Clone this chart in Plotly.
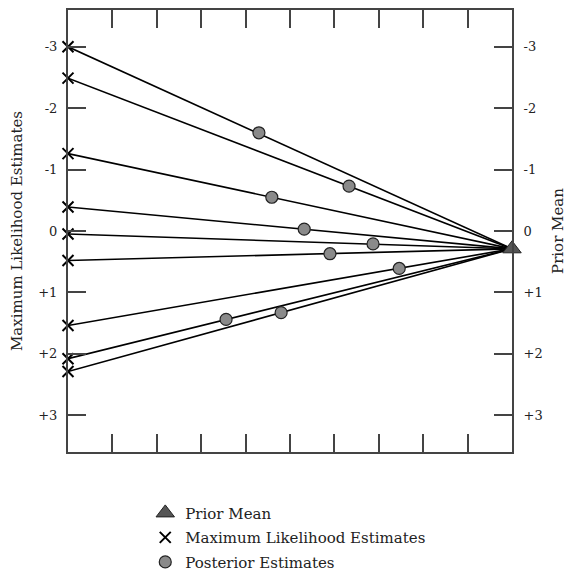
import plotly.graph_objects as go

# ---- data ----
ml_estimates = [-3.0, -2.49, -1.26, -0.39, 0.05, 0.48, 1.54, 2.08, 2.29]
prior_mean = 0.29
# posterior estimates: horizontal position (0..10 scale) and value
post_x = [4.30, 6.33, 4.59, 5.32, 6.87, 5.90, 7.46, 3.56, 4.80]
post_y = [-1.60, -0.73, -0.55, -0.03, 0.21, 0.37, 0.61, 1.44, 1.33]
ytick_vals = [-3, -2, -1, 0, 1, 2, 3]
ytick_text = ["-3", "-2", "-1", "0", "+1", "+2", "+3"]
x_left, x_right = 0, 10
xtick_vals = [1, 2, 3, 4, 5, 6, 7, 8, 9]

FONT = "DejaVu Serif"

line_x, line_y = [], []
for m in ml_estimates:
    line_x += [x_left, x_right, None]
    line_y += [m, prior_mean, None]

fig = go.Figure()
fig.add_trace(go.Scatter(x=line_x, y=line_y, mode="lines",
                         line=dict(color="black", width=1.6),
                         showlegend=False, hoverinfo="skip"))
fig.add_trace(go.Scatter(x=[x_right], y=[prior_mean], mode="markers",
                         name="Prior Mean", cliponaxis=False, legendgroup="a",
                         marker=dict(symbol="triangle-up", size=16, color="#555555",
                                     line=dict(color="#222222", width=1))))
fig.add_trace(go.Scatter(x=[x_left] * len(ml_estimates), y=ml_estimates, mode="markers",
                         name="Maximum Likelihood Estimates", cliponaxis=False,
                         legendgroup="b",
                         marker=dict(symbol="x-thin", size=11,
                                     line=dict(color="black", width=2))))
fig.add_trace(go.Scatter(x=post_x, y=post_y, mode="markers",
                         name="Posterior Estimates", legendgroup="c",
                         marker=dict(symbol="circle", size=12, color="#8a8a8a",
                                     line=dict(color="#222222", width=1.2))))
# invisible trace for right axis
fig.add_trace(go.Scatter(x=[x_left], y=[0], yaxis="y2", mode="markers",
                         marker=dict(opacity=0), showlegend=False, hoverinfo="skip"))

axis_col = "#444444"
fig.update_layout(
    width=567, height=575,
    margin=dict(l=68, r=55, t=10, b=123, autoexpand=False),
    paper_bgcolor="white", plot_bgcolor="white",
    font=dict(family=FONT, color="#222222", size=14),
    xaxis=dict(range=[x_left, x_right], showgrid=False, zeroline=False,
               showline=True, linecolor=axis_col, linewidth=2, mirror="ticks",
               ticks="inside", ticklen=18, tickwidth=2, tickcolor=axis_col,
               tickvals=xtick_vals, showticklabels=False, automargin=False),
    yaxis=dict(range=[3.6, -3.6], showgrid=False, zeroline=False,
               showline=True, linecolor=axis_col, linewidth=2,
               ticks="inside", ticklen=18, tickwidth=2, tickcolor=axis_col,
               tickvals=ytick_vals, ticktext=ytick_text, automargin=False,
               tickfont=dict(size=13), ticklabelstandoff=6,
               title=dict(text="Maximum Likelihood Estimates", standoff=12,
                          font=dict(size=15))),
    yaxis2=dict(range=[3.6, -3.6], overlaying="y", side="right", anchor="x",
                showgrid=False, zeroline=False, automargin=False,
                showline=True, linecolor=axis_col, linewidth=2,
                ticks="inside", ticklen=18, tickwidth=2, tickcolor=axis_col,
                tickvals=ytick_vals, ticktext=ytick_text,
                tickfont=dict(size=13), ticklabelstandoff=7,
                title=dict(text="Prior Mean", standoff=16, font=dict(size=15))),
    legend=dict(x=0.174, y=-0.101, xanchor="left", yanchor="top",
                font=dict(size=15), bgcolor="rgba(0,0,0,0)",
                tracegroupgap=2, itemsizing="trace"),
    showlegend=True,
)

fig.write_html("out.html")
